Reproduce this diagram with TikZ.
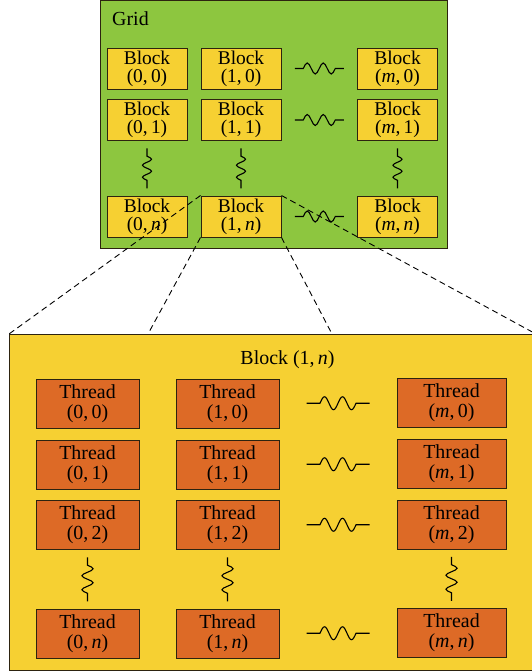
\documentclass[tikz,border=0pt]{standalone}
\usepackage{fontspec}
\setmainfont{Liberation Serif}
\usetikzlibrary{calc}
\definecolor{gridgreen}{RGB}{141,198,63}
\definecolor{blockyellow}{RGB}{246,208,50}
\definecolor{threadorange}{RGB}{221,106,38}
\definecolor{edgedark}{RGB}{45,35,15}
\tikzset{
  gridbox/.style={draw=edgedark, fill=gridgreen, line width=1pt, inner sep=0pt},
  bigbox/.style={draw=edgedark, fill=blockyellow, line width=1pt, inner sep=0pt},
  blockbox/.style={draw=edgedark, fill=blockyellow, line width=1pt, minimum width=80bp,
    minimum height=41bp, inner sep=0pt, align=center, font=\fontsize{19.5}{18}\selectfont},
  threadbox/.style={draw=edgedark, fill=threadorange, line width=1pt, minimum width=103bp,
    minimum height=49bp, inner sep=0pt, align=center, font=\fontsize{20}{20}\selectfont},
  labeltext/.style={inner sep=0pt, font=\fontsize{20}{20}\selectfont},
  wave/.style={draw=black, line width=1.1pt},
  zoomline/.style={draw=black, dash pattern=on 6bp off 4bp, line width=0.9pt},
  pics/squiggle/.style n args={3}{code={
    \draw[wave] (-#1,0) -- (-#2,0)
      sin ++({#2/4},{-#3}) cos ++({#2/4},{#3}) sin ++({#2/4},{#3}) cos ++({#2/4},{-#3})
      sin ++({#2/4},{-#3}) cos ++({#2/4},{#3}) sin ++({#2/4},{#3}) cos ++({#2/4},{-#3})
      -- (#1,0);
  }},
}
\begin{document}
\begin{tikzpicture}[x=1bp,y=-1bp]
\clip (0,0) rectangle (532,672);
\useasboundingbox (0,0) rectangle (532,672);

% ---- Grid ----
\node[gridbox, minimum width=347bp, minimum height=248bp, anchor=north west] (grid) at (100,0) {};
\node[labeltext, anchor=base west] (gridlabel) at (112,26) {Grid};

\node[blockbox] (b00) at (147,68.5) {Block\\(0,\,0)};
\node[blockbox] (b10) at (241,68.5) {Block\\(1,\,0)};
\node[blockbox] (bm0) at (397.5,68.5) {Block\\(\textit{m},\,0)};
\node[blockbox] (b01) at (147,120) {Block\\(0,\,1)};
\node[blockbox] (b11) at (241,120) {Block\\(1,\,1)};
\node[blockbox] (bm1) at (397.5,120) {Block\\(\textit{m},\,1)};
\node[blockbox] (b0n) at (147,216.5) {Block\\(0,\,\textit{n})};
\node[blockbox] (b1n) at (241,216.5) {Block\\(1,\,\textit{n})};
\node[blockbox] (bmn) at (397.5,216.5) {Block\\(\textit{m},\,\textit{n})};

\pic at ($(b10.east)!0.5!(bm0.west)$) {squiggle={24.5}{16}{5.5}};
\pic at ($(b11.east)!0.5!(bm1.west)$) {squiggle={24.5}{16}{5.5}};
\pic at ($(b1n.east)!0.5!(bmn.west)$) {squiggle={24.5}{16}{5.5}};
\pic[rotate=90] at ($(b01.south)!0.5!(b0n.north)$) {squiggle={20}{12}{4.5}};
\pic[rotate=90] at ($(b11.south)!0.5!(b1n.north)$) {squiggle={20}{12}{4.5}};
\pic[rotate=90] at ($(bm1.south)!0.5!(bmn.north)$) {squiggle={20}{12}{4.5}};

% ---- Block (1,n) ----
\node[bigbox, minimum width=526bp, minimum height=336bp, anchor=north west] (big) at (9,334) {};
\node[labeltext, anchor=base] (biglabel) at (287.5,364) {Block (1,\,\textit{n})};

\node[threadbox] (t00) at (87.5,403.5) {Thread\\(0,\,0)};
\node[threadbox] (t10) at (227.5,403.5) {Thread\\(1,\,0)};
\node[threadbox, minimum width=109bp] (tm0) at (451.5,403) {Thread\\(\textit{m},\,0)};
\node[threadbox] (t01) at (87.5,464.5) {Thread\\(0,\,1)};
\node[threadbox] (t11) at (227.5,464.5) {Thread\\(1,\,1)};
\node[threadbox, minimum width=109bp] (tm1) at (451.5,464) {Thread\\(\textit{m},\,1)};
\node[threadbox] (t02) at (87.5,525) {Thread\\(0,\,2)};
\node[threadbox] (t12) at (227.5,525) {Thread\\(1,\,2)};
\node[threadbox, minimum width=109bp] (tm2) at (451.5,524.5) {Thread\\(\textit{m},\,2)};
\node[threadbox] (t0n) at (87.5,633.5) {Thread\\(0,\,\textit{n})};
\node[threadbox] (t1n) at (227.5,633.5) {Thread\\(1,\,\textit{n})};
\node[threadbox, minimum width=109bp] (tmn) at (451.5,633) {Thread\\(\textit{m},\,\textit{n})};

\pic at ($(t10.east)!0.5!(tm0.west)$) {squiggle={31.5}{18}{6.5}};
\pic at ($(t11.east)!0.5!(tm1.west)$) {squiggle={31.5}{18}{6.5}};
\pic at ($(t12.east)!0.5!(tm2.west)$) {squiggle={31.5}{18}{6.5}};
\pic at ($(t1n.east)!0.5!(tmn.west)$) {squiggle={31.5}{18}{6.5}};
\pic[rotate=90] at ($(t02.south)!0.5!(t0n.north)$) {squiggle={22}{14}{5.5}};
\pic[rotate=90] at ($(t12.south)!0.5!(t1n.north)$) {squiggle={22}{14}{5.5}};
\pic[rotate=90] at ($(tm2.south)!0.5!(tmn.north)$) {squiggle={22}{14}{5.5}};

% ---- zoom lines ----
\coordinate (zl) at (148,334);
\coordinate (zr) at (332,334);
\draw[zoomline] (b1n.north west) -- (big.north west);
\draw[zoomline] (b1n.south west) -- (zl);
\draw[zoomline] (b1n.south east) -- (zr);
\draw[zoomline] (b1n.north east) -- (big.north east);
\end{tikzpicture}
\end{document}
